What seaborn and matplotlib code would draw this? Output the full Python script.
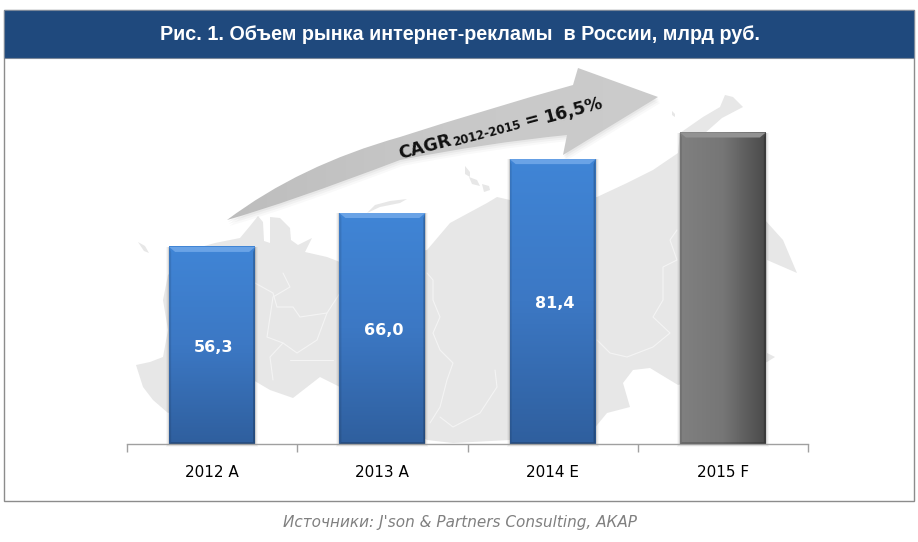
import matplotlib
matplotlib.use("Agg")
import matplotlib.pyplot as plt
import numpy as np
import pandas as pd
import seaborn as sns
from matplotlib.colors import LinearSegmentedColormap
from matplotlib.path import Path
from matplotlib.patches import PathPatch, Polygon, Rectangle

# ---------------------------------------------------------------------------
# Chart data
# ---------------------------------------------------------------------------
YEARS = ["2012 A", "2013 A", "2014 E", "2015 F"]
VALUES = [56.3, 66.0, 81.4, 89.0]
VALUE_LABELS = ["56,3", "66,0", "81,4", ""]
BAR_COLORS = ["#3A75BF", "#3A75BF", "#3A75BF", "#666666"]

TITLE = "Рис. 1. Объем рынка интернет-рекламы  в России, млрд руб."
SOURCE = "Источники: J'son & Partners Consulting, АКАР"

# background map, traced in pixels of the 918x542 picture
MAP_OUTLINE = [
    (136, 365), (150, 362), (163, 357), (168, 330), (163, 300), (168, 275), (190, 250), (215, 243),
    (240, 238), (250, 226), (258, 216), (263, 222), (264, 241), (270, 243), (270, 217), (280, 218),
    (290, 228), (291, 240), (298, 245), (308, 240), (312, 238), (305, 252), (327, 257), (340, 262),
    (427, 250), (433, 243), (450, 223), (487, 203), (497, 197), (510, 200), (597, 197), (627, 183),
    (653, 170), (678, 153), (680, 133), (703, 117), (720, 107), (725, 95), (733, 97), (743, 107),
    (722, 118), (705, 133), (765, 220), (783, 240), (797, 273), (767, 260), (767, 353), (775, 357),
    (767, 362), (678, 385), (650, 368), (633, 370), (623, 383), (630, 407), (607, 413), (593, 430),
    (567, 437), (453, 443), (427, 440), (340, 387), (320, 377), (293, 398), (270, 390), (253, 380),
    (168, 413), (153, 400), (143, 387),
]
MAP_ISLANDS = [
    [(138, 242), (145, 246), (149, 253), (144, 251)],
    [(465, 166), (470, 172), (470, 177), (465, 174)],
    [(469, 177), (477, 180), (480, 186), (472, 184)],
    [(482, 184), (489, 186), (490, 190), (484, 192)],
    [(672, 111), (675, 114), (675, 117), (672, 115)],
    [(367, 213), (375, 205), (390, 201), (407, 199), (400, 203), (380, 207)],
]
MAP_BORDERS = [
    [(255, 283), (273, 293), (277, 307), (293, 307), (300, 317), (327, 313), (340, 293)],
    [(283, 273), (290, 287), (273, 297), (267, 337), (283, 343), (297, 353), (317, 340), (327, 313)],
    [(283, 343), (270, 357), (273, 380)],
    [(290, 360), (317, 360), (333, 360)],
    [(427, 273), (433, 280), (433, 300), (440, 317), (433, 333), (440, 350), (453, 363), (447, 380), (440, 407), (430, 423)],
    [(597, 340), (610, 353), (627, 357), (653, 347), (670, 333), (653, 317), (663, 300), (663, 267), (677, 260), (670, 240), (677, 230)],
    [(495, 370), (497, 387), (480, 413), (453, 427), (440, 417)],
]
ARROW_TOP = [(227, 220), (300, 165), (400, 137), (490, 108), (573, 85)]
ARROW_HEAD = [(578, 68), (658, 97), (563, 155), (567, 135)]
ARROW_BOTTOM = [(487, 143), (400, 160), (287, 203), (227, 220)]

BLUE_CMAP = LinearSegmentedColormap.from_list("blue", ["#4085D6", "#3C78C4", "#2F5F9E"])
GREY_CMAP = LinearSegmentedColormap.from_list("grey", ["#808080", "#767676", "#4A4A4A"])
ARROW_CMAP = LinearSegmentedColormap.from_list("arrow", ["#BDBDBD", "#C8C8C8", "#CCCCCC"])

sns.set_style("white")
plt.rcParams["font.family"] = ["DejaVu Sans"]

W, H = 918, 542
fig = plt.figure(figsize=(W / 100, H / 100), dpi=100)

# ---------------------------------------------------------------------------
# Pixel-space layer: frame, header, map, arrow
# ---------------------------------------------------------------------------
bg = fig.add_axes([0, 0, 1, 1])
bg.set_xlim(0, W)
bg.set_ylim(H, 0)
bg.axis("off")

bg.add_patch(Rectangle((4, 10), 910, 491, fc="white", ec="#8C8C8C", lw=1))
bg.add_patch(Rectangle((4, 10), 910, 48, fc="#1F497D", ec="#7A8799", lw=0.8))
bg.text(460, 34, TITLE, color="white", fontsize=14.2, fontweight="bold", family="Liberation Sans",
        ha="center", va="center")
bg.text(460, 523, SOURCE, color="#808080", fontsize=11, style="italic", ha="center", va="center")

bg.add_patch(Polygon(MAP_OUTLINE, closed=True, fc="#E7E7E7", ec="none", zorder=1))
for island in MAP_ISLANDS:
    bg.add_patch(Polygon(island, closed=True, fc="#E7E7E7", ec="none", zorder=1))
for border in MAP_BORDERS:
    xs, ys = zip(*border)
    bg.plot(xs, ys, color="#F4F4F4", lw=0.8, zorder=1.2)

# curved arrow
verts = [ARROW_TOP[0], ARROW_TOP[1], ARROW_TOP[2], ARROW_TOP[3], ARROW_TOP[4]] + ARROW_HEAD + ARROW_BOTTOM
codes = [Path.MOVETO, Path.CURVE3, Path.CURVE3, Path.CURVE3, Path.CURVE3,
         Path.LINETO, Path.LINETO, Path.LINETO, Path.LINETO,
         Path.CURVE3, Path.CURVE3, Path.CURVE3, Path.CURVE3]
arrow_path = Path(verts, codes)
for off, alpha in [(6, 0.025), (4, 0.03), (2, 0.04)]:
    shadow = Path(np.array(verts) + [off * 0.4, off], codes)
    bg.add_patch(PathPatch(shadow, fc="black", ec="none", alpha=alpha, zorder=1.5))
arrow_patch = PathPatch(arrow_path, fc="none", ec="none", zorder=2)
bg.add_patch(arrow_patch)
grad = bg.imshow(np.linspace(0, 1, 200).reshape(1, -1), cmap=ARROW_CMAP, extent=(227, 658, 220, 68),
                 aspect="auto", zorder=2)
grad.set_clip_path(arrow_patch)
bg.set_xlim(0, W)
bg.set_ylim(H, 0)

CAGR_ANGLE = 15
CAGR_PARTS = [
    (425, 147, "CAGR", 12.5),
    (487, 134, "2012-2015", 8.5),
    (532, 120, "=", 12.5),
    (573, 110, "16,5%", 12.5),
]
for px, py, part, size in CAGR_PARTS:
    bg.text(px, py, part, fontsize=size, fontweight="bold", rotation=CAGR_ANGLE, rotation_mode="anchor",
            ha="center", va="center", zorder=3, color="#111111")

# ---------------------------------------------------------------------------
# Bars
# ---------------------------------------------------------------------------
ax = fig.add_axes([127 / W, 1 - 444 / H, (808 - 127) / W, (444 - 59) / H])
ax.patch.set_alpha(0)

df = pd.DataFrame({"year": YEARS, "value": VALUES})
sns.barplot(data=df, x="year", y="value", hue="year", palette=BAR_COLORS, legend=False, width=0.505,
            saturation=1, linewidth=0, ax=ax)

ax.set_xlim(-0.5, 3.5)
ax.set_ylim(0, 110)
xpx = (808 - 127) / 4  # pixels per category
ypx = (444 - 59) / 110  # pixels per value unit
bevel_x, bevel_y = 6 / xpx, 5 / ypx

for i, bar in enumerate(list(ax.patches)):
    x0, w, h = bar.get_x(), bar.get_width(), bar.get_height()
    x1 = x0 + w
    # soft shadow
    for off, alpha in [(3, 0.03), (2, 0.05), (1, 0.1)]:
        ax.add_patch(Rectangle((x0 - off / xpx, -off / ypx), w + 2 * off / xpx, h + off / ypx,
                               fc="black", ec="none", alpha=alpha, zorder=1, clip_on=False))
    bar.set_zorder(2)
    if i < 3:
        gradient = np.linspace(0, 1, 200).reshape(-1, 1)
        cmap = BLUE_CMAP
        top_color = "#6AA3E6"
    else:
        gradient = np.linspace(0, 1, 200).reshape(1, -1)
        cmap = GREY_CMAP
        top_color = "#929292"
    ax.imshow(gradient, cmap=cmap, extent=(x0, x1, 0, h), aspect="auto", zorder=2.1,
              origin="upper" if i < 3 else "lower")
    # bevels
    ax.add_patch(Polygon([(x0, h), (x1, h), (x1 - bevel_x, h - bevel_y), (x0 + bevel_x, h - bevel_y)],
                         fc=top_color, ec="none", zorder=2.3))
    ax.add_patch(Polygon([(x0, h), (x0 + bevel_x / 3, h - bevel_y), (x0 + bevel_x / 3, bevel_y / 3), (x0, 0)],
                         fc="black", ec="none", alpha=0.1, zorder=2.3))
    ax.add_patch(Polygon([(x1, h), (x1 - bevel_x / 3, h - bevel_y), (x1 - bevel_x / 3, bevel_y / 3), (x1, 0)],
                         fc="black", ec="none", alpha=0.22, zorder=2.3))
    ax.add_patch(Polygon([(x0, 0), (x1, 0), (x1 - bevel_x / 3, bevel_y / 3), (x0 + bevel_x / 3, bevel_y / 3)],
                         fc="black", ec="none", alpha=0.25, zorder=2.3))
    if VALUE_LABELS[i]:
        ax.text(i + 0.01, VALUES[i] / 2 - 0.5, VALUE_LABELS[i], color="white", fontsize=11.5,
                fontweight="bold", ha="center", va="center", zorder=3)

ax.set_xlim(-0.5, 3.5)
ax.set_ylim(0, 110)
sns.despine(ax=ax, left=True, top=True, right=True)
ax.spines["bottom"].set_color("#A0A0A0")
ax.spines["bottom"].set_linewidth(1)
ax.set_xlabel("")
ax.set_ylabel("")
ax.set_yticks([])
ax.set_xticks(range(len(YEARS)))
ax.set_xticklabels(YEARS, fontsize=11, color="black")
ax.set_xticks(np.arange(-0.5, 4), minor=True)
ax.tick_params(axis="x", which="major", length=0, pad=15)
ax.tick_params(axis="x", which="minor", length=6, width=1, color="#A0A0A0", direction="out", bottom=True)
ax.set_axisbelow(False)

fig.savefig("out.png", dpi=100)
